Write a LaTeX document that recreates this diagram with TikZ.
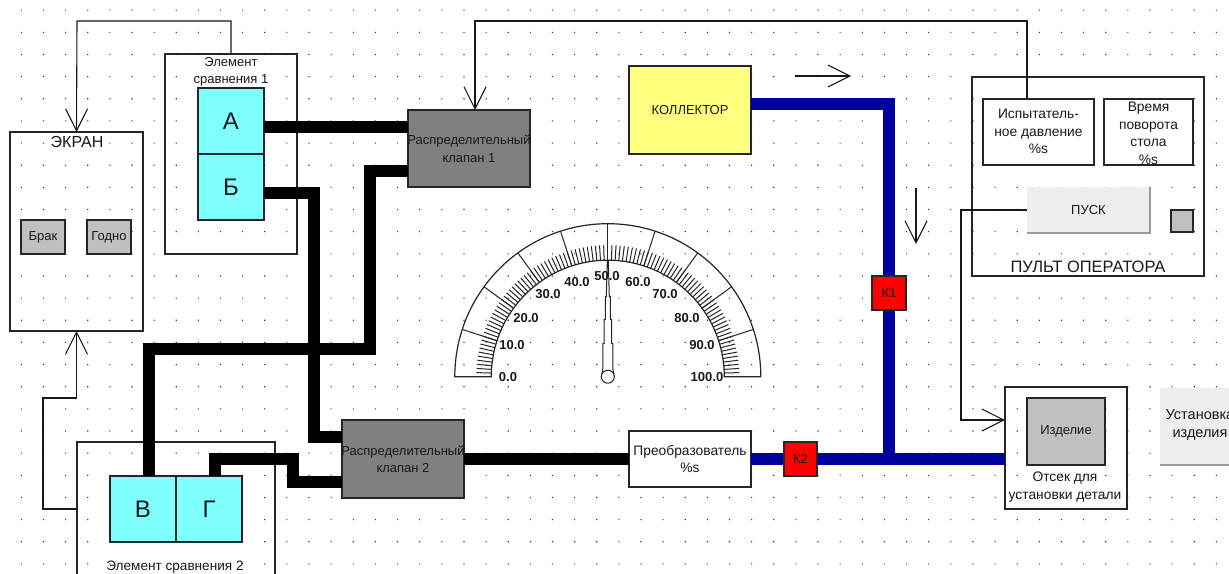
\documentclass[tikz,border=0pt]{standalone}
\usepackage{fontspec}
\setmainfont{Liberation Sans}
\usetikzlibrary{arrows.meta}
\definecolor{cyanbox}{HTML}{80FFFF}
\definecolor{valvegray}{HTML}{808080}
\definecolor{lightgray2}{HTML}{C0C0C0}
\definecolor{btn}{HTML}{EEEEEE}
\definecolor{yellowbox}{HTML}{FFFF80}
\definecolor{pipe}{HTML}{00009F}
\newcommand{\fs}[1]{\fontsize{#1}{#1}\selectfont}
\tikzset{
  bx/.style n args={4}{rectangle,inner sep=0pt,outer sep=0pt,draw=black!85,line width=1.1pt,
     minimum width=#3pt-#1pt,minimum height=#4pt-#2pt,anchor=center,at={({(#1+#3)/2},{(#2+#4)/2})}},
  txt/.style={inner sep=0pt,outer sep=0pt,align=center,font=\fs{13},text=black!90},
  txtb/.style={txt,font=\fontsize{13}{17.5}\selectfont},
  txtw/.style={txt,font=\fontsize{13.8}{17.5}\selectfont},
  wire/.style={line width=12pt,black,line join=miter},
  bluewire/.style={line width=12pt,pipe,line join=miter},
  thinl/.style={line width=1.1pt,black!90},
  arrowl/.style={thinl,-{Straight Barb[length=22pt,width=22pt,line width=1.1pt]}},
  tick/.style={line width=1pt,black!85},
}
\begin{document}
\begin{tikzpicture}[x=1pt,y=-1pt]
\useasboundingbox (0,0) rectangle (1229,573);
\clip (0,0) rectangle (1229,573);
\fill[white] (0,0) rectangle (1229,573);
% dot grid
\fill[black!80] \foreach \i in {0,...,55}{ \foreach \j in {0,...,25}{
  ({20.8+22.13*\i},{9.6+22.15*\j}) rectangle ++(1.1,1.1) } };

% transparent containers
\node[bx={10}{132}{143}{331}] (screen) {};
\node[bx={165}{54}{297}{254}] (elemA) {};
\node[bx={77}{442}{275}{640}] (elemB) {};
\node[bx={972}{77}{1204}{276}] (pult) {};
\node[bx={1005}{387}{1127}{509}] (otsek) {};

% solid nodes
\node[bx={198}{88}{264}{154},fill=cyanbox] (A) {};
\node[bx={198}{154}{264}{220},fill=cyanbox] (B) {};
\node[bx={110}{476}{176}{542},fill=cyanbox] (V) {};
\node[bx={176}{476}{242}{542},fill=cyanbox] (G) {};
\node[bx={408}{110}{530}{187},fill=valvegray] (valveA) {};
\node[bx={342}{420}{464}{498},fill=valvegray] (valveB) {};
\node[bx={629}{431}{751}{487},fill=white] (conv) {};
\node[bx={983}{99}{1094}{165},fill=white] (isp) {};
\node[bx={1104}{99}{1193}{165},fill=white] (vrem) {};
\node[bx={1027}{187}{1150}{233},fill=btn,draw=none] (pusk) {};
\node[bx={1160}{388}{1240}{465},fill=btn,draw=none] (ust) {};

% thick wires
\draw[wire] ([yshift=-5.5pt]A.east) -- ([yshift=22pt]valveA.west);
\draw[wire] ([yshift=-6pt]B.east) -- (314,193) -- (314,437) -- ([yshift=22pt]valveB.west);
\draw[wire] ([xshift=5.5pt]V.north) -- (148.5,348.5) -- (370,348.5) -- (370,171) -- ([yshift=-22.5pt]valveA.west);
\draw[wire] ([xshift=6pt]G.north) -- (215,459) -- (292.5,459) -- (292.5,481.5) -- ([yshift=-22.5pt]valveB.west);
\draw[wire] (valveB.east) -- (conv.west);
% blue pipes
\node[bx={629}{66}{751}{154},fill=yellowbox] (koll) {};
\draw[bluewire] ([yshift=6pt]koll.east) -- (889,104) -- (889,459);
\draw[bluewire] (conv.east) -- (otsek.west |- conv.east);

\node[bx={784}{442}{817}{476},fill=red] (kb) {};
\node[bx={872}{276}{906}{310},fill=red] (ka) {};
\node[bx={1027}{398}{1105}{465},fill=lightgray2] (izd) {};
\node[bx={21}{220}{65}{254},fill=lightgray2] (brak) {};
\node[bx={87}{220}{131}{254},fill=lightgray2] (godno) {};
\node[bx={1171}{210}{1193}{232},fill=lightgray2] (lamp) {};

% button bevels
\draw[line width=1.6pt,black!40] (pusk.south west) -- (pusk.south east) -- (pusk.north east);
\draw[line width=1.6pt,black!40] (ust.south west) -- (ust.south east);

% thin connectors
\draw[arrowl] ([xshift=-11.5pt]isp.north) -- (1027,21) -- (475,21) -- ([xshift=6pt]valveA.north);
\draw[arrowl] (elemA.north) -- (231,21) -- (77,21) -- (screen.north);
\draw[arrowl] ([yshift=32pt]elemB.west) -- (43,509) -- (43,398) -- (76.5,398) -- (screen.south);
\draw[arrowl] (pusk.west) -- (961,210) -- (961,420) -- ([yshift=28pt]otsek.west);
\coordinate (flowAs) at (795,76); \coordinate (flowAe) at (851,76);
\coordinate (flowBs) at (916,188); \coordinate (flowBe) at (916,244);
\draw[arrowl] (flowAs) -- (flowAe);
\draw[arrowl] (flowBs) -- (flowBe);

% texts
\node[txt,font=\fs{16}] (tScreen) at (77,142) {ЭКРАН};
\node[txt] at (brak) {Брак};
\node[txt] at (godno) {Годно};
\node[txtb] (tElemA) at (231,72) {Элемент\\сравнения 1};
\node[txt,font=\fs{24}] at (A) {А};
\node[txt,font=\fs{24}] at (B) {Б};
\node[txt,font=\fs{24}] at (V) {В};
\node[txt,font=\fs{24}] at (G) {Г};
\node[txt,font=\fs{13.6}] (tElemB) at (175,567) {Элемент сравнения 2};
\node[txtb] at (valveA) {Распределительный\\клапан 1};
\node[txtb] at (valveB) {Распределительный\\клапан 2};
\node[txt] at (koll) {КОЛЛЕКТОР};
\node[txtw] at (conv) {Преобразователь\\\%s};
\node[txt] at (ka) {К1};
\node[txt] at (kb) {К2};
\node[txt] at (izd) {Изделие};
\node[txtw] (tOtsek) at (1065,487) {Отсек для\\установки детали};
\node[txtw,font=\fontsize{14.5}{17.5}\selectfont] (tUst) at (1200,425) {Установка\\изделия};
\node[txt] at (pusk) {ПУСК};
\node[txtw] (tIsp) at (1038.5,131.5) {Испытатель-\\ное давление\\\%s};
\node[txtw] (tVrem) at (1148.5,133.5) {Время\\поворота\\стола\\\%s};
\node[txt,font=\fs{16.5}] (tPult) at (1088,267) {ПУЛЬТ ОПЕРАТОРА};

% gauge
\begin{scope}[shift={(607.8,376.7)},y=1pt]
  \draw[line width=1.2pt,black!85,line join=miter] (-153,0) arc (180:0:153) -- (116.5,0) arc (0:180:116.5) -- cycle;
  \foreach \v in {10,20,30,40,50,60,70,80,90}
    \draw[line width=1pt,black!85] ({180-1.8*\v}:116.5) -- ({180-1.8*\v}:153);
  \foreach \v in {0,...,100}
    \draw[tick] ({180-1.8*\v}:116.5) -- ({180-1.8*\v}:131.5);
  \draw[line width=1pt,black!85,fill=white,line join=miter]
    (-6.5,0) -- (-5,8) -- (-5,33) -- (-3.7,33) -- (-3.7,57) -- (-2.5,57) -- (-2.5,80) -- (-1.5,80) -- (-0.5,115)
    -- (0.5,115) -- (1.5,80) -- (2.5,80) -- (2.5,57) -- (3.7,57) -- (3.7,33) -- (5,33) -- (5,8) -- (6.5,0) -- cycle;
  \draw[line width=1pt,black!85,fill=white] (0,0) circle[radius=6.5];
\end{scope}
\foreach \t/\xx/\yy in {0.0/508/377,10.0/512/345,20.0/526/318,30.0/548/294,40.0/577/282,50.0/607/276,60.0/638/282,70.0/665/294,80.0/687/318,90.0/702/345,100.0/707/377}
  \node[txt,font=\fs{13}\bfseries] at (\xx,\yy) {\t};
\end{tikzpicture}
\end{document}
